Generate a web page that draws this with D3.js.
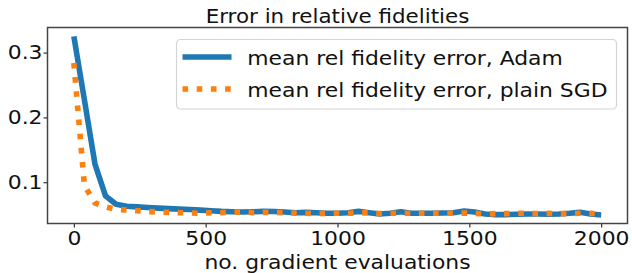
<!DOCTYPE html>
<html><head><meta charset="utf-8">
<script src="https://cdn.jsdelivr.net/npm/d3@7"></script>
<style>body{margin:0;background:#fff}svg{display:block}text{font-family:"DejaVu Sans",sans-serif;fill:#111}</style>
</head><body><svg id="c" width="632" height="273"></svg>
<script>
const evals = d3.range(0, 2001, 40);
const adam = [0.325,0.227,0.128,0.079,0.066,0.063,0.062,0.061,0.0600,0.0592,0.0585,0.0578,0.0570,0.0560,0.0550,0.0545,0.0540,0.0545,0.0550,0.0548,0.0540,0.0530,0.0535,0.0530,0.0520,0.0520,0.0530,0.0550,0.0530,0.0510,0.0520,0.0545,0.0520,0.0520,0.0520,0.0525,0.0530,0.0555,0.0540,0.0510,0.0500,0.0500,0.0505,0.0510,0.0510,0.0505,0.0510,0.0520,0.0535,0.0510,0.0495];
const sgd = [0.284,0.095,0.068,0.062,0.058,0.057,0.056,0.0548,0.0540,0.0535,0.0530,0.0525,0.0520,0.0530,0.0530,0.0535,0.0545,0.0530,0.0535,0.0535,0.0530,0.0520,0.0520,0.0515,0.0520,0.0520,0.0520,0.0525,0.0530,0.0515,0.0520,0.0520,0.0520,0.0520,0.0520,0.0520,0.0520,0.0525,0.0520,0.0510,0.0515,0.0515,0.0520,0.0520,0.0515,0.0520,0.0515,0.0515,0.0520,0.0520,0.0505];
const xTicks = [0,500,1000,1500,2000];
const yTicks = [0.1,0.2,0.3];
const seriesNames = ["mean rel fidelity error, Adam","mean rel fidelity error, plain SGD"];
const title = "Error in relative fidelities";
const xLabel = "no. gradient evaluations";

const SX = 1.11; // horizontal stretch of the reference's text
const svg = d3.select("#c");
const L=47.5, R=627.5, T=27.5, B=223.5;
const x = d3.scaleLinear().domain([-100,2100]).range([L,R]);
const ymin=0.0363, ymax=0.3387;
const y = d3.scaleLinear().domain([ymin,ymax]).range([B,T]);

const line = d3.line().x((d,i)=>x(evals[i])).y(d=>y(d));
svg.append("path").datum(adam).attr("d",line).attr("fill","none")
  .attr("stroke","#1f77b4").attr("stroke-width",5.6).attr("stroke-linejoin","round");
svg.append("path").datum(sgd).attr("d",line).attr("fill","none")
  .attr("stroke","#ff7f0e").attr("stroke-width",5.6).attr("stroke-dasharray","5.6,8.6");

const xa = svg.append("g").attr("transform",`translate(0,${B})`)
  .call(d3.axisBottom(x).tickValues(xTicks).tickSize(4).tickPadding(4).tickFormat(d3.format("d")));
const ya = svg.append("g").attr("transform",`translate(${L},0)`)
  .call(d3.axisLeft(y).tickValues(yTicks).tickSize(4).tickPadding(0.5).tickFormat(d3.format(".1f")));
[xa,ya].forEach(a=>{a.select(".domain").remove();
  a.selectAll("line").attr("stroke","#333").attr("stroke-width",1.2);
  a.selectAll("text").style("font-family","DejaVu Sans").style("font-size","19.7px").attr("fill","#000")
   .attr("transform",`scale(${SX},1)`);});

svg.append("rect").attr("x",L).attr("y",T).attr("width",R-L).attr("height",B-T)
  .attr("fill","none").attr("stroke","#444").attr("stroke-width",1.5);

function stext(cx, by, size, s, anchor){
  return svg.append("text").attr("transform",`translate(${cx},${by}) scale(${SX},1)`)
    .attr("text-anchor",anchor).style("font-size",size+"px").attr("fill","#000").text(s);
}
stext((L+R)/2, 23.3, 19.3, title, "middle");
stext((L+R)/2, 269.3, 19.7, xLabel, "middle");

svg.append("rect").attr("x",176.5).attr("y",39.5).attr("width",440).attr("height",69.5).attr("rx",4)
  .attr("fill","#fff").attr("fill-opacity",0.85).attr("stroke","#d4d4d4").attr("stroke-width",1.2);
const rows=[{c:"#1f77b4",dash:null,y:57},{c:"#ff7f0e",dash:"5.6,8.6",y:89}];
rows.forEach((r,i)=>{
  svg.append("line").attr("x1",182.5).attr("x2",231.5).attr("y1",r.y).attr("y2",r.y)
    .attr("stroke",r.c).attr("stroke-width",5.6).attr("stroke-dasharray",r.dash);
  stext(247.3, r.y+7.5, 19.7, seriesNames[i], "start");
});
</script></body></html>
